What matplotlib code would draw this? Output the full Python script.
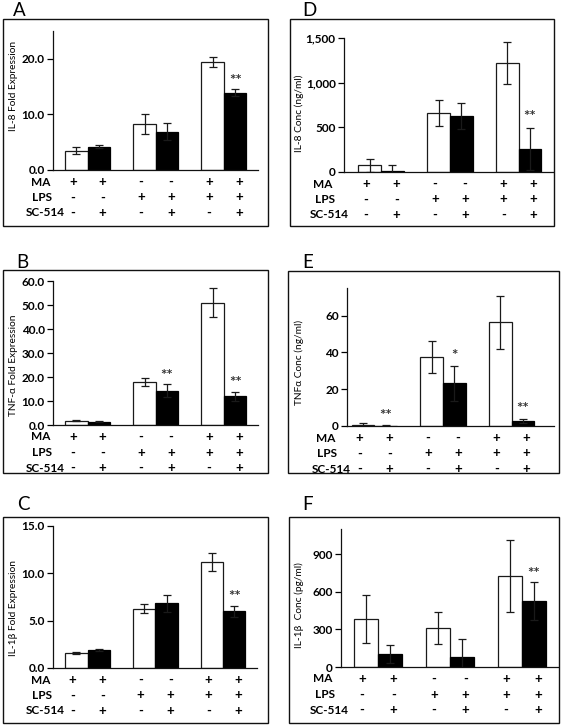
import numpy as np
import matplotlib
matplotlib.use('Agg')
import matplotlib.pyplot as plt
from matplotlib.patches import Rectangle
from matplotlib.ticker import FuncFormatter, MultipleLocator

# treatment table under every panel
ma = ['+', '+', '-', '-', '+', '+']
lps = ['-', '-', '+', '+', '+', '+']
sc514 = ['-', '+', '-', '+', '-', '+']
row_names = ['MA', 'LPS', 'SC-514']

# A - IL-8 fold expression
a_white = [3.5, 8.2, 19.4]
a_white_err = [0.55, 1.8, 0.9]
a_black = [4.2, 6.9, 13.9]
a_black_err = [0.25, 1.55, 0.6]
a_sig = ['', '', '**']

# B - TNF-a fold expression
b_white = [1.8, 17.9, 51.0]
b_white_err = [0.3, 1.6, 6.2]
b_black = [1.4, 14.3, 11.9]
b_black_err = [0.1, 2.6, 1.9]
b_sig = ['', '**', '**']

# C - IL-1b fold expression
c_white = [1.6, 6.28, 11.2]
c_white_err = [0.08, 0.48, 1.0]
c_black = [1.94, 6.85, 6.0]
c_black_err = [0.1, 0.9, 0.6]
c_sig = ['', '', '**']

# D - IL-8 conc
d_white = [75, 665, 1220]
d_white_err = [75, 145, 240]
d_black = [8, 625, 252]
d_black_err = [70, 145, 235]
d_sig = ['', '', '**']

# E - TNFa conc
e_white = [0.7, 37.6, 56.4]
e_white_err = [1.0, 8.7, 14.5]
e_black = [0.2, 23.1, 2.7]
e_black_err = [0.1, 9.6, 1.3]
e_sig = ['**', '*', '**']

# F - IL-1b conc
f_white = [383, 308, 726]
f_white_err = [190, 128, 290]
f_black = [102, 82, 525]
f_black_err = [70, 140, 150]
f_sig = ['', '', '**']

W, H = 563, 728
plt.rcParams['font.family'] = ['Lato', 'DejaVu Sans']
plt.rcParams['font.weight'] = 'bold'

fig = plt.figure(figsize=(W / 100, H / 100), dpi=100)


def fx(px):
    return px / W


def fy(py):
    return 1 - py / H


def panel(letter, box, axbox, letter_xy, ylab, ylab_xy, lab_x,
          white, white_err, black, black_err, sig, ylim, step, fmt,
          xlim=(-0.51, 2.5), star_pad=1):
    # frame round the panel
    l, t, r, b = box
    fig.add_artist(Rectangle((fx(l), fy(b)), fx(r - l), (b - t) / H,
                             transform=fig.transFigure, fill=False,
                             edgecolor='#111111', linewidth=1.0))
    fig.text(fx(letter_xy[0]), fy(letter_xy[1]), letter, fontsize=13.5,
             fontweight='normal', ha='left', va='center')

    l, t, r, b = axbox
    ax = fig.add_axes([fx(l), fy(b), fx(r - l), (b - t) / H])
    x = np.arange(3)
    w = 0.33
    ekw = dict(ecolor='#1a1a1a', elinewidth=0.9, capsize=3, capthick=0.9)
    ax.bar(x - w / 2, white, w, yerr=white_err, color='white',
           edgecolor='#1a1a1a', linewidth=0.9, error_kw=ekw)
    ax.bar(x + w / 2, black, w, yerr=black_err, color='black',
           edgecolor='black', linewidth=0.9, error_kw=ekw)
    for i, s in enumerate(sig):
        if s:
            ax.annotate(s, (x[i] + w / 2, black[i] + black_err[i]),
                        xytext=(0, star_pad), textcoords='offset points',
                        ha='center', va='bottom', fontsize=11, color='#333333')

    ax.set_xlim(*xlim)
    ax.set_ylim(0, ylim)
    ax.yaxis.set_major_locator(MultipleLocator(step))
    ax.yaxis.set_major_formatter(FuncFormatter(lambda v, p: fmt.format(v)))
    for sp in ['top', 'right']:
        ax.spines[sp].set_visible(False)
    for sp in ['left', 'bottom']:
        ax.spines[sp].set_linewidth(0.9)
        ax.spines[sp].set_color('#111111')
    ax.tick_params(axis='x', bottom=False, labelbottom=False)
    ax.tick_params(axis='y', direction='out', length=4, width=0.9,
                   labelsize=8.5, pad=2)

    fig.text(fx(ylab_xy[0]), fy(ylab_xy[1]), ylab, rotation=90, fontsize=7.3,
             fontweight='normal', ha='center', va='center')

    # treatment rows
    xs = np.repeat(x, 2) + np.tile([-0.22, 0.22], 3)
    for row, (name, signs) in enumerate(zip(row_names, [ma, lps, sc514])):
        off = 12 + 15.5 * row
        fig.text(fx(lab_x[row]), fy(b + off), name, fontsize=8.5,
                 ha='left', va='center')
        for xi, s in zip(xs, signs):
            ax.annotate(s, (xi, 0), xycoords=('data', 'axes fraction'),
                        xytext=(0, -off * 0.72), textcoords='offset points',
                        ha='center', va='center', fontsize=9.5)
    return ax


panel('A', (3, 19, 268, 226), (53, 31, 258, 170), (13, 11),
      'IL-8 Fold Expression', (14, 86), [31, 32, 26],
      a_white, a_white_err, a_black, a_black_err, a_sig, 25, 10, '{:.1f}')
panel('B', (3, 270, 268, 473), (53, 281, 258, 425), (16, 262),
      'TNF-\u03b1 Fold Expression', (14, 365), [31, 32, 26],
      b_white, b_white_err, b_black, b_black_err, b_sig, 60, 10, '{:.1f}')
panel('C', (3, 517, 268, 723), (53, 526, 257, 668), (17, 504),
      'IL-1\u03b2 Fold Expression', (14, 608), [31, 32, 26],
      c_white, c_white_err, c_black, c_black_err, c_sig, 15, 5, '{:.1f}')
panel('D', (290, 19, 554, 226), (344, 38, 553, 172), (302, 11),
      'IL-8 Conc (ng/ml)', (299, 113), [313, 315, 310],
      d_white, d_white_err, d_black, d_black_err, d_sig, 1500, 500, '{:,.0f}',
      xlim=(-0.54, 2.5), star_pad=3)
panel('E', (288, 271, 559, 473), (347, 288, 554, 426), (302, 262),
      'TNF\u03b1 Conc (ng/ml)', (299, 362), [316, 317, 312],
      e_white, e_white_err, e_black, e_black_err, e_sig, 75, 20, '{:.0f}',
      xlim=(-0.4, 2.62), star_pad=2)
panel('F', (289, 517, 559, 723), (341, 529, 558, 667), (302, 504),
      'IL-1\u03b2  Conc (pg/ml)', (299, 605), [313, 315, 310],
      f_white, f_white_err, f_black, f_black_err, f_sig, 1100, 300, '{:.0f}',
      xlim=(-0.51, 2.5))

fig.savefig('out.png', dpi=100)
